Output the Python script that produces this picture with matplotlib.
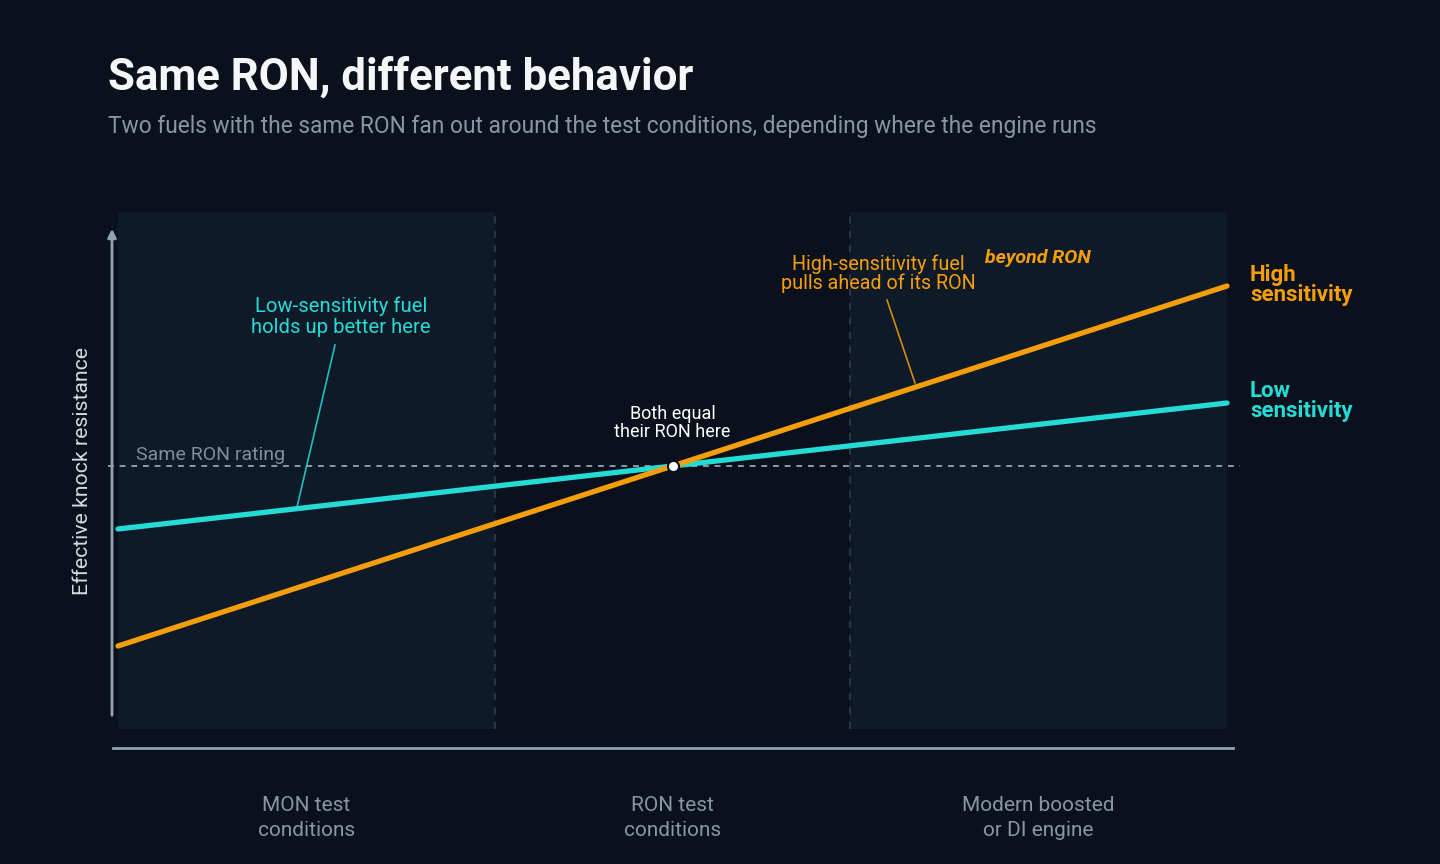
import matplotlib
matplotlib.use("Agg")
import matplotlib.pyplot as plt
from matplotlib.patches import Rectangle

# ---- data ----
conditions = ["MON test\nconditions", "RON test\nconditions", "Modern boosted\nor DI engine"]
condition_x = [0.17, 0.50, 0.83]
region_edges = [0.0, 0.34, 0.66, 1.0]
line_x = [0.0, 1.0]
low_sens = [92.9, 97.1]
high_sens = [89.0, 101.0]
ron_level = 95.0

BG = "#0b111c"
PANEL = "#0f1a29"
ORANGE = "#f59e0b"
CYAN = "#25dbd6"
GRAY = "#8696a4"
AXIS = "#8fa3b3"

plt.rcParams['font.family'] = ['Roboto', 'DejaVu Sans']

W, H = 1440, 864
fig = plt.figure(figsize=(W / 100, H / 100), dpi=100, facecolor=BG)

ax_l, ax_r, ax_t, ax_b = 100, 1240, 200, 770
ax = fig.add_axes([ax_l / W, 1 - ax_b / H, (ax_r - ax_l) / W, (ax_b - ax_t) / H])
ax.set_facecolor(BG)
for s in ax.spines.values():
    s.set_visible(False)
ax.set_xticks([]); ax.set_yticks([])

def px2x(px):
    return (px - 118) / 1109.0
def py2y(py):
    return ron_level + (466 - py) / 30.0

ax.set_xlim(px2x(ax_l), px2x(ax_r))
ax.set_ylim(py2y(ax_b), py2y(ax_t))

y_top = py2y(212); y_bot = py2y(729)
for i in (0, 2):
    x0 = region_edges[i]; x1 = region_edges[i + 1]
    ax.add_patch(Rectangle((x0, y_bot), x1 - x0, y_top - y_bot, facecolor=PANEL,
                           edgecolor='none', zorder=0))
for xb in region_edges[1:3]:
    ax.plot([xb, xb], [y_bot, y_top], color="#2b3a4b", lw=1.3, ls=(0, (4, 4)), zorder=1)

ax.plot([px2x(108), px2x(1240)], [ron_level, ron_level], color="#8a9aa8", lw=1.4,
        ls=(0, (3, 3)), zorder=2)
ax.text(px2x(136), py2y(455), "Same RON rating", color="#7f8f9c", fontsize=14,
        ha='left', va='center', zorder=3)

ax.annotate("", xy=(px2x(112), py2y(226)), xytext=(px2x(112), py2y(718)),
            arrowprops=dict(arrowstyle="-|>,head_length=0.5,head_width=0.25",
                            color=AXIS, lw=2), zorder=3)
ax.plot([px2x(113), px2x(1233)], [py2y(748), py2y(748)], color=AXIS, lw=2, zorder=3)

ax.plot(line_x, low_sens, color=CYAN, lw=3.8, solid_capstyle='round', zorder=5)
ax.plot(line_x, high_sens, color=ORANGE, lw=3.8, solid_capstyle='round', zorder=6)
ax.plot([0.5], [ron_level], marker='o', ms=8, mfc='white', mec=BG, mew=1.5, zorder=7)

ax.text(px2x(341), py2y(317), "Low-sensitivity fuel\nholds up better here", color=CYAN,
        fontsize=14.6, ha='center', va='center', linespacing=1.15, zorder=8)
ax.plot([px2x(335), px2x(297)], [py2y(345), py2y(507)], color=CYAN, lw=1.2, alpha=0.85, zorder=8)

ax.text(px2x(878), py2y(274), "High-sensitivity fuel\npulls ahead of its RON", color=ORANGE,
        fontsize=14.2, ha='center', va='center', linespacing=0.95, zorder=8)
ax.plot([px2x(887), px2x(915)], [py2y(300), py2y(383)], color=ORANGE, lw=1.2, alpha=0.85, zorder=8)
ax.text(px2x(985), py2y(258), "beyond RON", color=ORANGE, fontsize=14, fontweight='bold',
        fontstyle='italic', ha='left', va='center', zorder=8)

ax.text(0.5, py2y(423), "Both equal\ntheir RON here", color="white", fontsize=13,
        ha='center', va='center', linespacing=1.0, zorder=8)

ax.text(px2x(1250), py2y(285), "High\nsensitivity", color=ORANGE, fontsize=16,
        fontweight='bold', ha='left', va='center', linespacing=0.92, zorder=8, clip_on=False)
ax.text(px2x(1250), py2y(401), "Low\nsensitivity", color=CYAN, fontsize=16,
        fontweight='bold', ha='left', va='center', linespacing=0.92, zorder=8, clip_on=False)

for cx, lab in zip(condition_x, conditions):
    ax.text(cx, py2y(818), lab, color=GRAY, fontsize=15, ha='center', va='center',
            linespacing=1.35, clip_on=False)

fig.text(83 / W, 1 - 471 / H, "Effective knock resistance", color="#d5dbe1", fontsize=15.3,
         rotation=90, ha='center', va='center')

fig.text(108 / W, 1 - 78 / H, "Same RON, different behavior", color="#f4f6f8", fontsize=31.5,
         fontweight='bold', ha='left', va='center')
fig.text(108 / W, 1 - 127 / H,
         "Two fuels with the same RON fan out around the test conditions, depending where the engine runs",
         color=GRAY, fontsize=16.4, ha='left', va='center')

fig.savefig("out.png", dpi=100, facecolor=BG)
